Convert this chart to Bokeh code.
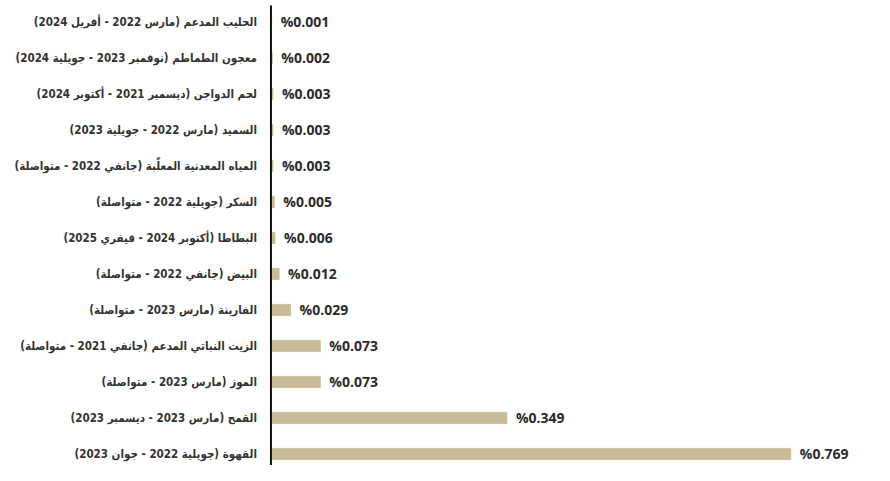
from bokeh.plotting import figure
from bokeh.models import ColumnDataSource, Range1d
from bokeh.core.properties import value
from bokeh.embed import file_html
from bokeh.resources import INLINE

# Data (top to bottom as in the reference)
categories = [
    "الحليب المدعم (مارس 2022 - أفريل 2024)",
    "معجون الطماطم (نوفمبر 2023 - جويلية 2024)",
    "لحم الدواجن (ديسمبر 2021 - أكتوبر 2024)",
    "السميد (مارس 2022 - جويلية 2023)",
    "المياه المعدنية المعلّبة (جانفي 2022 - متواصلة)",
    "السكر (جويلية 2022 - متواصلة)",
    "البطاطا (أكتوبر 2024 - فيفري 2025)",
    "البيض (جانفي 2022 - متواصلة)",
    "الفارينة (مارس 2023 - متواصلة)",
    "الزيت النباتي المدعم (جانفي 2021 - متواصلة)",
    "الموز (مارس 2023 - متواصلة)",
    "القمح (مارس 2023 - ديسمبر 2023)",
    "القهوة (جويلية 2022 - جوان 2023)",
]
values = [0.001, 0.002, 0.003, 0.003, 0.003, 0.005, 0.006, 0.012, 0.029, 0.073, 0.073, 0.349, 0.769]
value_labels = ["%0.001", "%0.002", "%0.003", "%0.003", "%0.003", "%0.005", "%0.006",
                "%0.012", "%0.029", "%0.073", "%0.073", "%0.349", "%0.769"]

RLM = "\u200F"
rows = list(range(len(categories)))
src = ColumnDataSource(dict(
    y=rows,
    v=values,
    cat=[RLM + c + RLM for c in categories],
    lab=value_labels,
    zero=[0] * len(rows),
))

p = figure(width=874, height=465, output_backend="svg", toolbar_location=None,
           x_range=Range1d(-0.4001, 0.8928), y_range=Range1d(12.32, -0.597),
           min_border=0, min_border_left=0, min_border_right=0,
           min_border_top=0, min_border_bottom=0)
p.xaxis.visible = False
p.yaxis.visible = False
p.grid.visible = False
p.outline_line_color = None
p.background_fill_color = "white"
p.border_fill_color = "white"

p.hbar(y="y", left=0, right="v", height=0.31, source=src,
       fill_color="#c6bd98", line_color="#c6bd98", line_width=0.8)

# vertical axis line
p.segment(x0=[0], y0=[-0.458], x1=[0], y1=[12.32], line_color="#111111", line_width=2)

# category labels
p.text(x="zero", y="y", text="cat", source=src, x_offset=-14,
       text_align="right", text_baseline="middle",
       text_font=value("DejaVu Sans Condensed, DejaVu Sans"), text_font_size="11.5px",
       text_font_style="bold", text_color="#333333")

# value labels
p.text(x="v", y="y", text="lab", source=src, x_offset=9,
       text_align="left", text_baseline="middle",
       text_font=value("Open Sans"), text_font_size="14px",
       text_font_style="bold", text_color="#2b2b2b")

open("out.html", "w").write(file_html(p, INLINE))
